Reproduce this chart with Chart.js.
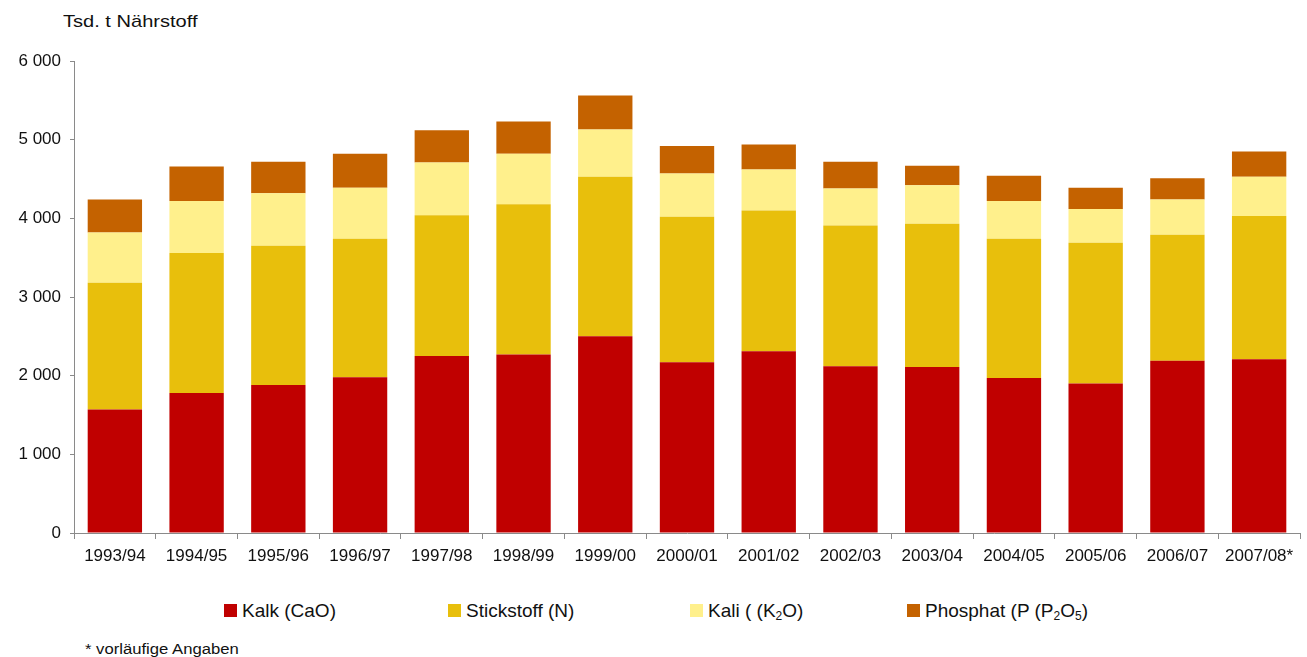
<!DOCTYPE html>
<html lang="de">
<head>
<meta charset="utf-8">
<title>Nährstoffabsatz</title>
<script src="https://cdn.jsdelivr.net/npm/chart.js@4.4.1/dist/chart.umd.min.js"></script>
<style>
    html, body { margin: 0; padding: 0; background: #fff; }
    body { font-family: "Liberation Sans", Arial, sans-serif; color: #111; }
    #page { position: relative; width: 1307px; height: 657px; overflow: hidden; }
    #chartBox { position: absolute; left: 0; top: 0; width: 1307px; height: 580px; }
    .unit { position: absolute; left: 63px; top: 13px; font-size: 17px; line-height: 1;
            transform: scaleX(1.18); transform-origin: left top; white-space: nowrap; }
    .note { position: absolute; left: 85px; top: 642px; font-size: 14px; line-height: 1;
            transform: scaleX(1.19); transform-origin: left top; white-space: nowrap; }
    .leg { position: absolute; top: 601px; font-size: 19px; line-height: 1; white-space: nowrap; }
    .leg i { position: absolute; left: -18px; top: 3px; width: 13px; height: 13px; }
    .leg sub { font-size: 12px; vertical-align: -3px; line-height: 0; }
</style>
</head>
<body>
<div id="page">
    <div class="unit">Tsd. t Nährstoff</div>
    <div id="chartBox"><canvas id="naehrstoffChart"></canvas></div>
    <div id="legend"></div>
    <div class="note">* vorläufige Angaben</div>
</div>
<script>
// Wirtschaftsjahre
const years = ["1993/94", "1994/95", "1995/96", "1996/97", "1997/98", "1998/99", "1999/00",
    "2000/01", "2001/02", "2002/03", "2003/04", "2004/05", "2005/06", "2006/07", "2007/08*"];

// Absatz in Tsd. t Nährstoff
const kalk = [1570, 1780, 1880, 1980, 2250, 2270, 2500, 2170, 2310, 2120, 2110, 1970, 1900, 2190, 2210];
const stickstoff = [1610, 1780, 1770, 1760, 1790, 1910, 2030, 1850, 1790, 1790, 1820, 1770, 1790, 1600, 1820];
const kali = [640, 660, 670, 650, 670, 640, 600, 550, 520, 470, 490, 480, 430, 450, 500];
const phosphat = [420, 440, 400, 430, 410, 410, 430, 350, 320, 340, 250, 320, 270, 270, 320];

const yTicks = [0, 1000, 2000, 3000, 4000, 5000, 6000];

const series = [
    { label: "Kalk (CaO)", html: "Kalk (CaO)", data: kalk, color: "#c00000", x: 242 },
    { label: "Stickstoff (N)", html: "Stickstoff (N)", data: stickstoff, color: "#e8bf0c", x: 466 },
    { label: "Kali ( (K2O)", html: "Kali ( (K<sub>2</sub>O)", data: kali, color: "#fff08c", x: 708 },
    { label: "Phosphat (P (P2O5)", html: "Phosphat (P (P<sub>2</sub>O<sub>5</sub>)", data: phosphat, color: "#c46200", x: 925 },
];

// Legende als HTML (Subskripte)
const legendEl = document.getElementById("legend");
series.forEach((s) => {
    const item = document.createElement("div");
    item.className = "leg";
    item.style.left = s.x + "px";
    item.innerHTML = `<i style="background:${s.color}"></i>${s.html}`;
    legendEl.appendChild(item);
});

Chart.defaults.font.family = "'Liberation Sans', Arial, sans-serif";
Chart.defaults.color = "#111";

const axisGray = "#8a8a8a";

new Chart(document.getElementById("naehrstoffChart"), {
    type: "bar",
    data: {
        labels: years,
        datasets: series.map((s) => ({
            label: s.label,
            data: s.data,
            backgroundColor: s.color,
            borderWidth: 0,
            barPercentage: 0.665,
            categoryPercentage: 1,
        })),
    },
    options: {
        responsive: true,
        maintainAspectRatio: false,
        animation: false,
        layout: { padding: { top: 61, right: 7, left: 0, bottom: 0 } },
        plugins: {
            legend: { display: false },
            tooltip: { enabled: false },
        },
        scales: {
            x: {
                stacked: true,
                afterFit: (s) => { s.height = 47; },
                grid: {
                    offset: true,
                    drawOnChartArea: false,
                    drawTicks: true,
                    tickLength: 6,
                    color: axisGray,
                },
                border: { color: axisGray, width: 1 },
                ticks: { font: { size: 17 }, padding: 7, maxRotation: 0, autoSkip: false },
            },
            y: {
                stacked: true,
                min: 0,
                max: 6000,
                afterFit: (s) => { s.width = 74; },
                afterBuildTicks: (s) => { s.ticks = yTicks.map((v) => ({ value: v })); },
                grid: {
                    drawOnChartArea: false,
                    drawTicks: true,
                    tickLength: 4,
                    color: axisGray,
                },
                border: { color: axisGray, width: 1 },
                ticks: {
                    font: { size: 17 },
                    padding: 9,
                    callback: (v) => (v >= 1000 ? Math.floor(v / 1000) + " 000" : String(v)),
                },
            },
        },
    },
});
</script>
</body>
</html>
